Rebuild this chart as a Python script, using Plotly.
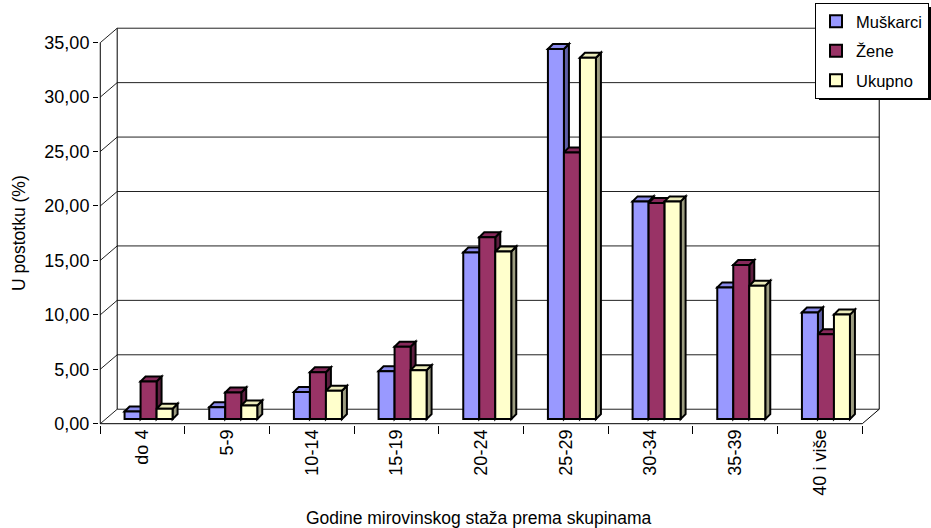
import plotly.graph_objects as go

# ---- data ----
categories = ["do 4", "5-9", "10-14", "15-19", "20-24", "25-29", "30-34", "35-39", "40 i više"]
muskarci = [0.7, 1.1, 2.5, 4.4, 15.3, 34.0, 20.0, 12.1, 9.8]
zene = [3.45, 2.45, 4.3, 6.65, 16.7, 24.5, 19.85, 14.15, 7.8]
ukupno = [0.95, 1.25, 2.6, 4.5, 15.4, 33.2, 20.0, 12.25, 9.6]
series_names = ["Muškarci", "Žene", "Ukupno"]
y_ticks = [0, 5, 10, 15, 20, 25, 30, 35]
x_title = "Godine mirovinskog staža prema skupinama"
y_title = "U postotku (%)"

# ---- style / geometry ----
FONT = "Liberation Sans, Arial, sans-serif"
front_colors = ["#9999FF", "#993366", "#FFFFCC"]
top_colors = ["#8A8AEB", "#86295A", "#EBEBBA"]
side_colors = ["#5E5EA6", "#5E1F40", "#9C9C80"]
bar_offsets = [-0.213, -0.024, 0.165]
bar_width = 0.189
BASE = 0.42          # bars stand inside the 3D floor
BAR_DX, BAR_DY = 0.059, 0.46   # bar depth in axis units
WALL_DX, WALL_DY = 0.2, 1.33   # chart depth in axis units
n = len(categories)
XMIN, XMAX = -0.5, n - 0.5 + WALL_DX

W, H = 931, 528
ML, MB = 99, 103
PX_PER_CAT = 84.67
PX_PER_UNIT = 10.886
x_lo = XMIN - 0.015
x_hi = x_lo + (W - ML) / PX_PER_CAT
y_lo = -0.12
y_hi = y_lo + (H - MB) / PX_PER_UNIT
plot_w = W - ML
plot_h = H - MB

fig = go.Figure()
series = [muskarci, zene, ukupno]
for i, (name, vals) in enumerate(zip(series_names, series)):
    fig.add_trace(go.Bar(
        x=categories, y=vals, base=BASE, offset=bar_offsets[i], width=bar_width,
        name=name, legendgroup=name,
        marker=dict(color=front_colors[i], line=dict(color="black", width=2)),
        hovertemplate="%{x}: %{y:.2f}<extra>" + name + "</extra>",
    ))

shapes = []


def seg(x0, y0, x1, y1, w=1, color="black"):
    shapes.append(dict(type="line", xref="x", yref="y", x0=x0, y0=y0, x1=x1, y1=y1,
                       layer="below", line=dict(color=color, width=w)))


# back wall gridlines and left-wall diagonals
for v in y_ticks:
    seg(XMIN + WALL_DX, v + WALL_DY, XMAX, v + WALL_DY, color="#222")
    seg(XMIN, v, XMIN + WALL_DX, v + WALL_DY, color="#222")
seg(XMIN + WALL_DX, WALL_DY, XMIN + WALL_DX, y_ticks[-1] + WALL_DY)
seg(XMAX, WALL_DY, XMAX, y_ticks[-1] + WALL_DY)
# floor
seg(XMIN, 0, n - 0.5, 0)
seg(n - 0.5, 0, XMAX, WALL_DY)
# front value axis line
seg(XMIN, 0, XMIN, y_ticks[-1])

# 3D faces of bars (top + side), drawn under the front faces
for i, vals in enumerate(series):
    for j, v in enumerate(vals):
        xl = j + bar_offsets[i]
        xr = xl + bar_width
        b = BASE
        t = BASE + v
        top = (f"M{xl},{t} L{xl + BAR_DX},{t + BAR_DY} L{xr + BAR_DX},{t + BAR_DY} L{xr},{t} Z")
        side = (f"M{xr},{b} L{xr},{t} L{xr + BAR_DX},{t + BAR_DY} L{xr + BAR_DX},{b + BAR_DY} Z")
        shapes.append(dict(type="path", xref="x", yref="y", path=side, layer="below",
                           fillcolor=side_colors[i], line=dict(color="black", width=2)))
        shapes.append(dict(type="path", xref="x", yref="y", path=top, layer="below",
                           fillcolor=top_colors[i], line=dict(color="black", width=2)))

# legend shadow (paper coordinates, pixel estimates of the plotly legend box)
LEG_L, LEG_R, LEG_T, LEG_B = 815, 929, 3, 96
shapes.append(dict(type="rect", xref="paper", yref="paper", layer="above",
                   x0=(LEG_L + 4 - ML) / plot_w, x1=(LEG_R + 4 - ML) / plot_w,
                   y0=(plot_h - LEG_B - 4) / plot_h, y1=(plot_h - LEG_T - 4) / plot_h,
                   fillcolor="black", line=dict(width=0)))

annotations = [
    dict(text=x_title, xref="paper", yref="paper",
         x=(479 - ML) / plot_w, y=(plot_h - 518) / plot_h,
         xanchor="center", yanchor="middle", showarrow=False,
         font=dict(family=FONT, size=17.5, color="black")),
    dict(text=y_title, xref="paper", yref="paper",
         x=(19 - ML) / plot_w, y=(plot_h - 233) / plot_h, textangle=-90,
         xanchor="center", yanchor="middle", showarrow=False,
         font=dict(family=FONT, size=17.5, color="black")),
]

fig.update_layout(
    width=W, height=H,
    margin=dict(l=ML, r=0, t=0, b=MB, pad=0),
    paper_bgcolor="white", plot_bgcolor="white",
    font=dict(family=FONT, size=18, color="black"),
    separators=",.",
    barmode="overlay",
    showlegend=True,
    shapes=shapes,
    annotations=annotations,
    legend=dict(
        x=(LEG_R - ML) / plot_w, xanchor="right",
        y=(plot_h - LEG_T) / plot_h, yanchor="top",
        bgcolor="white", bordercolor="black", borderwidth=1,
        font=dict(family=FONT, size=16.5, color="black"),
        tracegroupgap=5, itemwidth=30, traceorder="grouped",
    ),
    xaxis=dict(
        type="category", range=[x_lo, x_hi],
        tickson="boundaries", ticks="outside", ticklen=8, tickcolor="black", tickwidth=1,
        tickangle=-90, showgrid=False, showline=False, zeroline=False,
        tickfont=dict(family=FONT, size=18),
    ),
    yaxis=dict(
        range=[y_lo, y_hi], tickvals=y_ticks, tickformat=".2f",
        ticks="outside", ticklen=5, tickcolor="black",
        showgrid=False, showline=False, zeroline=False,
        tickfont=dict(family=FONT, size=18),
    ),
)

fig.write_html(
    "out.html",
    config={"displayModeBar": False},
    post_script="document.body.style.margin='0';document.body.style.overflow='hidden';",
)
